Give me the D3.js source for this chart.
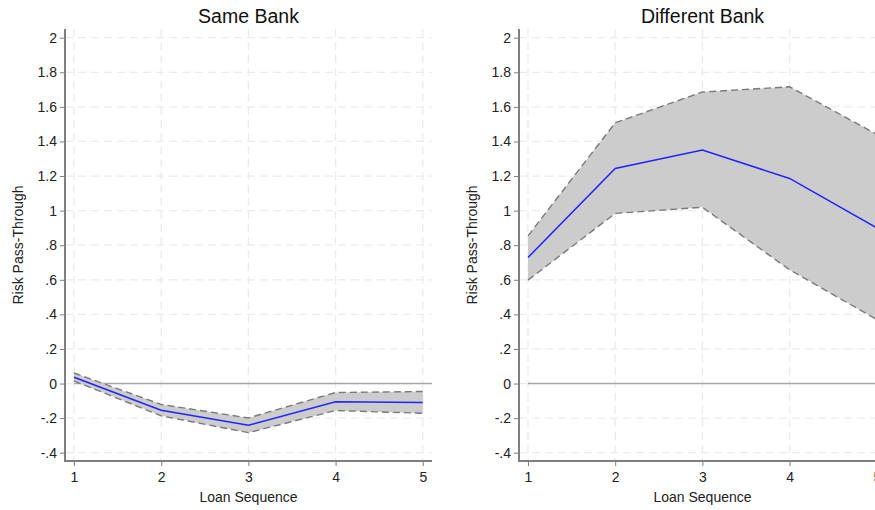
<!DOCTYPE html>
<html>
<head>
<meta charset="utf-8">
<script src="https://cdn.jsdelivr.net/npm/d3@7"></script>
<style>
  html, body { margin: 0; padding: 0; background: #fff; }
  svg { display: block; font-family: "Liberation Sans", Arial, sans-serif; }
</style>
</head>
<body>
<svg id="chart" width="875" height="510"></svg>
<script>
// ---- data ----
const loanSequence = [1, 2, 3, 4, 5];
const panelTitles = ["Same Bank", "Different Bank"];

const sameEstimate = [0.036, -0.154, -0.241, -0.106, -0.110];
const sameUpper    = [0.061, -0.121, -0.199, -0.052, -0.046];
const sameLower    = [0.015, -0.187, -0.284, -0.156, -0.172];

const diffEstimate = [0.729, 1.244, 1.350, 1.186, 0.900];
const diffUpper    = [0.854, 1.508, 1.686, 1.716, 1.441];
const diffLower    = [0.598, 0.984, 1.019, 0.658, 0.370];

const yTickValues = [2, 1.8, 1.6, 1.4, 1.2, 1, 0.8, 0.6, 0.4, 0.2, 0, -0.2, -0.4];
const yTickLabels = ["2", "1.8", "1.6", "1.4", "1.2", "1", ".8", ".6", ".4", ".2", "0", "-.2", "-.4"];
const xTickLabels = ["1", "2", "3", "4", "5"];

const xTitle = "Loan Sequence";
const yTitle = "Risk Pass-Through";

// ---- layout ----
const svg = d3.select("#chart");
const frame = { left: 65, right: 432, top: 29, bottom: 461 };
const panelOffsets = [0, 454];

const x = d3.scaleLinear().domain([1, 5]).range([74, 422.8]);
const y = d3.scaleLinear().domain([-0.4, 2]).range([452.7, 37.7]);

const panels = [
  { title: panelTitles[0], est: sameEstimate, up: sameUpper, lo: sameLower },
  { title: panelTitles[1], est: diffEstimate, up: diffUpper, lo: diffLower }
];

panels.forEach((p, i) => {
  const g = svg.append("g").attr("transform", `translate(${panelOffsets[i]},0)`);

  // gridlines
  g.append("g").selectAll("line").data(yTickValues).join("line")
    .attr("x1", frame.left).attr("x2", frame.right)
    .attr("y1", d => y(d)).attr("y2", d => y(d))
    .attr("stroke", "#ebebeb").attr("stroke-width", 1.3)
    .attr("stroke-dasharray", "8,5");
  g.append("g").selectAll("line").data(loanSequence).join("line")
    .attr("y1", frame.top).attr("y2", frame.bottom)
    .attr("x1", d => x(d)).attr("x2", d => x(d))
    .attr("stroke", "#ebebeb").attr("stroke-width", 1.3)
    .attr("stroke-dasharray", "8,5");

  // zero reference line
  g.append("line")
    .attr("x1", x(1)).attr("x2", frame.right)
    .attr("y1", y(0)).attr("y2", y(0))
    .attr("stroke", "#a6a6a6").attr("stroke-width", 1.5);

  const rows = loanSequence.map((s, k) => ({ s, e: p.est[k], u: p.up[k], l: p.lo[k] }));

  // confidence band
  g.append("path").datum(rows)
    .attr("d", d3.area().x(d => x(d.s)).y0(d => y(d.l)).y1(d => y(d.u)))
    .attr("fill", "#cccccc").attr("stroke", "none");
  [d => d.u, d => d.l].forEach(acc => {
    g.append("path").datum(rows)
      .attr("d", d3.line().x(d => x(d.s)).y(d => y(acc(d))))
      .attr("fill", "none").attr("stroke", "#7a7a7a")
      .attr("stroke-width", 1.4).attr("stroke-dasharray", "7,4");
  });

  // estimate line
  g.append("path").datum(rows)
    .attr("d", d3.line().x(d => x(d.s)).y(d => y(d.e)))
    .attr("fill", "none").attr("stroke", "#2222ff").attr("stroke-width", 1.5);

  // axes
  const yAxis = d3.axisLeft(y).tickValues(yTickValues)
    .tickFormat((d, k) => yTickLabels[k]).tickSize(5).tickPadding(3).tickSizeOuter(0);
  const ya = g.append("g").attr("transform", `translate(${frame.left},0)`).call(yAxis);
  ya.select(".domain").remove();
  ya.selectAll(".tick line").attr("stroke", "#7f7f7f");
  ya.selectAll(".tick text").attr("font-size", 14).attr("fill", "#222")
    .attr("font-family", "Liberation Sans, Arial, sans-serif");

  const xAxis = d3.axisBottom(x).tickValues(loanSequence)
    .tickFormat((d, k) => xTickLabels[k]).tickSize(5).tickPadding(6).tickSizeOuter(0);
  const xa = g.append("g").attr("transform", `translate(0,${frame.bottom})`).call(xAxis);
  xa.select(".domain").remove();
  xa.selectAll(".tick line").attr("stroke", "#7f7f7f");
  xa.selectAll(".tick text").attr("font-size", 14).attr("fill", "#222")
    .attr("font-family", "Liberation Sans, Arial, sans-serif");

  // axis lines
  g.append("line").attr("x1", frame.left).attr("x2", frame.left)
    .attr("y1", frame.top).attr("y2", frame.bottom + 1)
    .attr("stroke", "#7f7f7f").attr("stroke-width", 2);
  g.append("line").attr("x1", frame.left - 1).attr("x2", frame.right)
    .attr("y1", frame.bottom).attr("y2", frame.bottom)
    .attr("stroke", "#7f7f7f").attr("stroke-width", 2);

  // titles
  g.append("text").attr("x", (frame.left + frame.right) / 2).attr("y", 22.5)
    .attr("text-anchor", "middle").attr("font-size", 19.5).attr("fill", "#111")
    .text(p.title);
  g.append("text").attr("x", (frame.left + frame.right) / 2).attr("y", 502)
    .attr("text-anchor", "middle").attr("font-size", 14).attr("fill", "#222")
    .text(xTitle);
  g.append("text")
    .attr("transform", `translate(22.5,${(frame.top + frame.bottom) / 2}) rotate(-90)`)
    .attr("text-anchor", "middle").attr("font-size", 14).attr("fill", "#222")
    .text(yTitle);
});
</script>
</body>
</html>
